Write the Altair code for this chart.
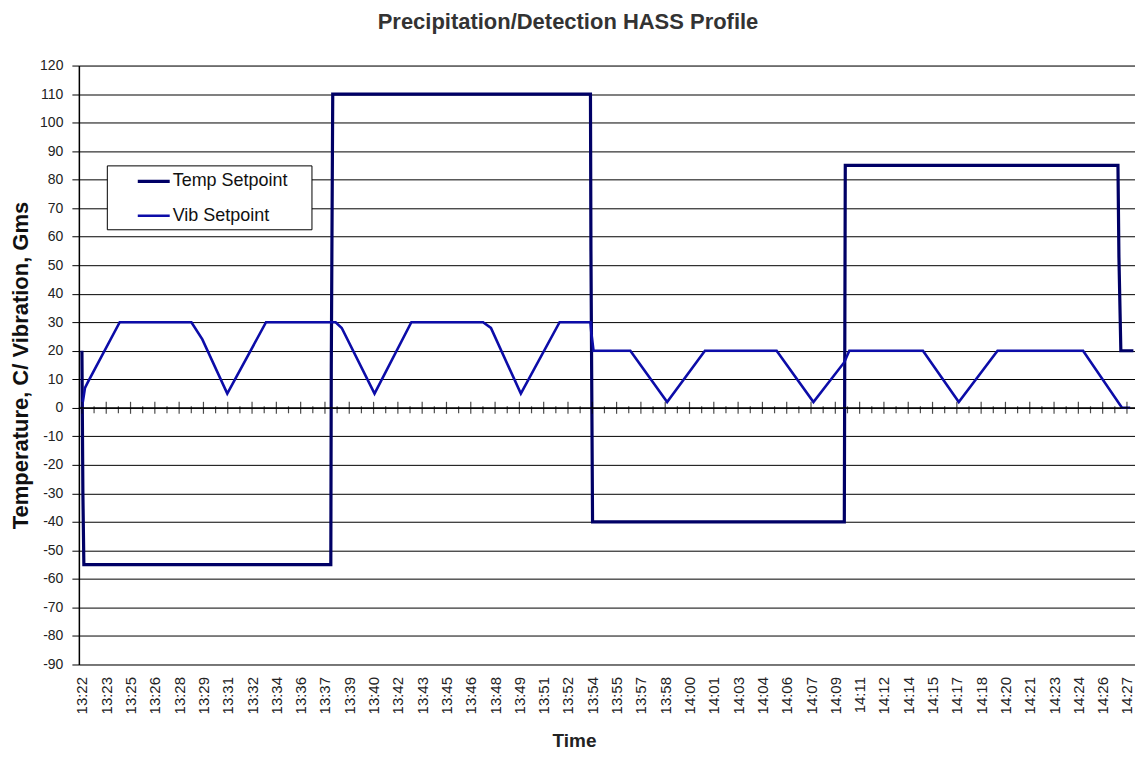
import altair as alt
import pandas as pd

chart_title = "Precipitation/Detection HASS Profile"
x_title = "Time"
y_title = "Temperature, C/ Vibration, Gms"
series_names = ["Temp Setpoint", "Vib Setpoint"]
series_colors = ["#000066", "#0c0ca8"]
series_widths = [3.2, 2.6]

time_labels = ["13:22", "13:23", "13:25", "13:26", "13:28", "13:29", "13:31", "13:32",
               "13:34", "13:36", "13:37", "13:39", "13:40", "13:42", "13:43", "13:45",
               "13:46", "13:48", "13:49", "13:51", "13:52", "13:54", "13:55", "13:57",
               "13:58", "14:00", "14:01", "14:03", "14:04", "14:06", "14:07", "14:09",
               "14:11", "14:12", "14:14", "14:15", "14:17", "14:18", "14:20", "14:21",
               "14:23", "14:24", "14:26", "14:27"]
span_minutes = 65

# elapsed minutes since 13:22
temp_minutes = [0.0, 0.06, 0.12, 15.48, 15.51, 15.60, 31.63, 31.66, 31.76,
                47.42, 47.48, 64.44, 64.50, 64.62, 65.4]
temp_values = [20, -30, -55, -55, 15, 110, 110, 55, -40,
               -40, 85, 85, 53, 20, 20]

vib_minutes = [0.0, 0.19, 0.37, 2.35, 6.81, 7.49, 9.04, 11.45, 15.78, 16.16,
               18.20, 20.49, 24.95, 25.44, 27.30, 29.71, 31.63, 31.69, 31.82,
               34.11, 36.40, 38.75, 43.21, 45.50, 47.42, 47.73, 52.31, 54.54,
               56.95, 62.27, 64.69, 65.2]
vib_values = [0, 7, 9, 30, 30, 24, 5, 30, 30, 28,
              5, 30, 30, 28, 5, 30, 30, 26, 20,
              20, 2, 20, 20, 2, 16, 20, 20, 2,
              20, 20, 0, 0]

y_ticks = list(range(-90, 130, 10))

rows = []
for i, (m, v) in enumerate(zip(temp_minutes, temp_values)):
    rows.append({"series": series_names[0], "minute": m, "value": v, "seq": i})
for i, (m, v) in enumerate(zip(vib_minutes, vib_values)):
    rows.append({"series": series_names[1], "minute": m, "value": v, "seq": i})
df = pd.DataFrame(rows)

step = span_minutes / (len(time_labels) - 1)
major_pos = [i * step for i in range(len(time_labels))]
minor_pos = [(i + 0.5) * step for i in range(len(time_labels) - 1)]

label_array = "[" + ",".join("'" + t + "'" for t in time_labels) + "]"
label_expr = f"{label_array}[round(datum.value / {step})]"

FONT = "Liberation Sans"
x_scale = alt.Scale(domain=[-0.19, 65.5], nice=False, zero=False)
y_scale = alt.Scale(domain=[-90, 120], nice=False, zero=False)

x_axis = alt.Axis(values=major_pos, tickCount=200, labelExpr=label_expr, labelAngle=270,
                  ticks=False, domain=False, grid=False,
                  labelPadding=12, labelFontSize=15, labelFont=FONT,
                  labelColor="#222", labelOverlap=False,
                  title=x_title, titleFont=FONT, titleFontSize=19,
                  titleFontWeight="bold", titleColor="#222",
                  titleX=496, titleY=76, titleAlign="center",
                  titleBaseline="middle")
y_axis = alt.Axis(values=y_ticks, tickCount=200, labelExpr="'' + datum.value",
                  grid=True, gridColor="black",
                  gridOpacity=1, gridWidth=1, domainColor="black",
                  domainWidth=1.5, tickColor="black", tickSize=7,
                  labelPadding=9, labelFontSize=14, labelFont=FONT,
                  labelColor="#222", labelOverlap=False,
                  title=y_title, titleFont=FONT, titleFontSize=22,
                  titleFontWeight="bold", titleColor="#111",
                  titleX=-58, titleY=300, titleAngle=270,
                  titleAlign="center", titleBaseline="middle")

x_enc = alt.X("minute:Q", scale=x_scale, axis=x_axis)
y_enc = alt.Y("value:Q", scale=y_scale, axis=y_axis)

lines = alt.Chart(df).mark_line(strokeJoin="miter", strokeCap="butt").encode(
    x=x_enc,
    y=y_enc,
    color=alt.Color("series:N",
                    scale=alt.Scale(domain=series_names, range=series_colors),
                    legend=alt.Legend(title="\u00a0", titleOrient="right",
                                      titlePadding=20, titleFontSize=6,
                                      orient="none", legendX=28,
                                      legendY=100, strokeColor="black",
                                      fillColor="white", padding=4,
                                      symbolType="M-1.6,0H1.6", symbolSize=400,
                                      symbolStrokeWidth=3, symbolOffset=31,
                                      labelFont=FONT, labelFontSize=18,
                                      labelColor="#111", rowPadding=14,
                                      labelOffset=7)),
    strokeWidth=alt.StrokeWidth("series:N",
                                scale=alt.Scale(domain=series_names, range=series_widths),
                                legend=None),
    order="seq:Q",
)

zero_line = alt.Chart(pd.DataFrame({"value": [0]})).mark_rule(
    color="black", strokeWidth=1.2).encode(y=y_enc)

major_ticks = alt.Chart(pd.DataFrame({"minute": major_pos})).mark_tick(
    orient="vertical", size=12, thickness=1.2, color="black").encode(
    x=x_enc, y=alt.datum(0))

minor_ticks = alt.Chart(pd.DataFrame({"minute": minor_pos})).mark_tick(
    orient="vertical", size=7, thickness=1.2, color="black", yOffset=2).encode(
    x=x_enc, y=alt.datum(0))

chart = alt.layer(lines, zero_line, major_ticks, minor_ticks).properties(
    width=1058, height=600,
    title=alt.TitleParams(chart_title, font=FONT, fontSize=22, fontWeight="bold",
                          color="#333", anchor="middle", frame="group", dx=-39,
                          offset=25),
    autosize=alt.AutoSizeParams(type="none"),
    padding={"left": 71, "top": 57, "right": 0, "bottom": 86},
).configure_view(stroke="#8c8c8c", strokeWidth=1).configure(background="white")

chart.save("out.html", embed_options={"renderer": "svg", "actions": False})
